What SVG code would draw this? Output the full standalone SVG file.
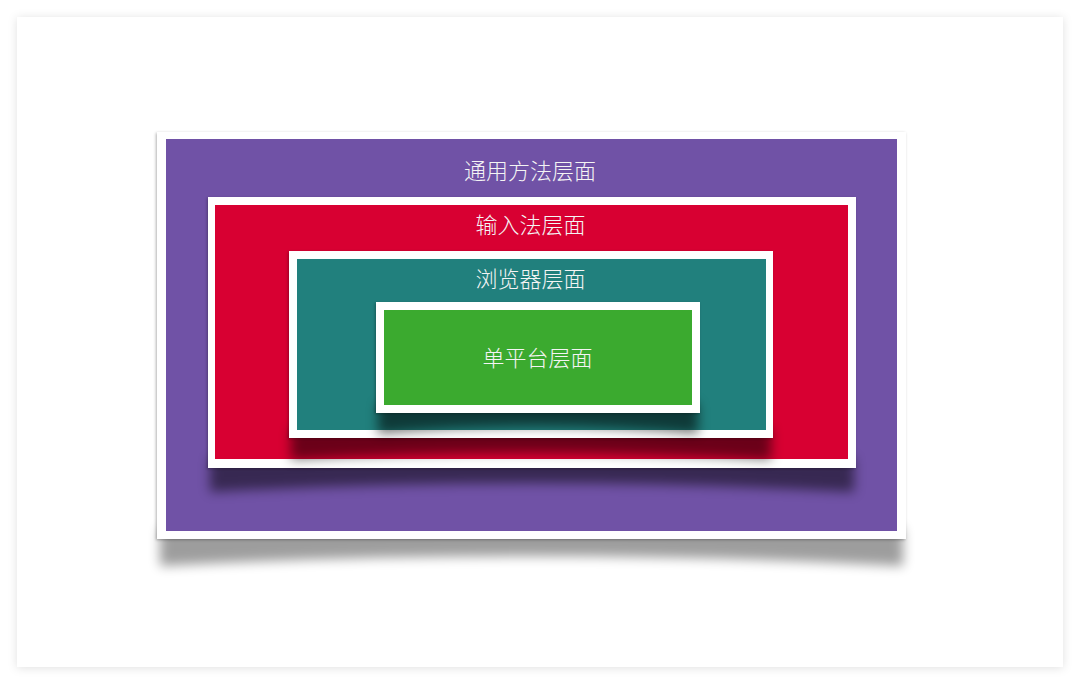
<svg xmlns="http://www.w3.org/2000/svg" width="1080" height="684" viewBox="0 0 1080 684">
<defs>
<style>
.border{fill:#ffffff}
.lbl{font-family:"Noto Sans CJK SC","Noto Sans",sans-serif;font-size:22px;font-weight:300;fill:#f4f4f4;text-anchor:middle}
.curl{fill:#000}
</style>
<filter id="card" x="-5%" y="-5%" width="110%" height="110%">
<feDropShadow dx="0" dy="1" stdDeviation="5" flood-color="#000" flood-opacity="0.12"/>
</filter>
<filter id="edge" x="-5%" y="-5%" width="110%" height="110%">
<feDropShadow dx="-1" dy="1" stdDeviation="1.5" flood-color="#000" flood-opacity="0.3"/>
</filter>
<filter id="blur" x="-10%" y="-50%" width="120%" height="200%">
<feGaussianBlur stdDeviation="6"/>
</filter>
</defs>
<rect width="1080" height="684" fill="#ffffff"/>
<rect x="17" y="17" width="1046" height="650" fill="#ffffff" filter="url(#card)"/>

<g id="node-general">
<path class="curl" d="M160,528 L903,528 L903,566 Q531,546 160,566 Z" opacity="0.38" filter="url(#blur)"/>
<rect class="border" x="157" y="132" width="749" height="407" filter="url(#edge)"/>
<rect x="166" y="139" width="731" height="392" fill="#7052A6"/>
<text class="lbl" x="530" y="179">通用方法层面</text>
</g>

<g id="node-ime">
<path class="curl" d="M210,458 L854,458 L854,492 Q531,474 210,492 Z" opacity="0.5" filter="url(#blur)"/>
<rect class="border" x="208" y="197" width="648" height="271" filter="url(#edge)"/>
<rect x="215" y="205" width="633" height="254" fill="#D80032"/>
<text class="lbl" x="530.5" y="233">输入法层面</text>
</g>

<g id="node-browser">
<path class="curl" d="M291,428 L771,428 L771,460 Q531,445 291,460 Z" opacity="0.5" filter="url(#blur)"/>
<rect class="border" x="289" y="251" width="484" height="187" filter="url(#edge)"/>
<rect x="297" y="259" width="469" height="171" fill="#21807D"/>
<text class="lbl" x="530.5" y="287">浏览器层面</text>
</g>

<g id="node-platform">
<path class="curl" d="M378,403 L698,403 L698,434 Q538,419 378,434 Z" opacity="0.55" filter="url(#blur)"/>
<rect class="border" x="376" y="302" width="324" height="111" filter="url(#edge)"/>
<rect x="384" y="310" width="308" height="95" fill="#3BAA2F"/>
<text class="lbl" x="537.5" y="366">单平台层面</text>
</g>

<g id="connectors"/>
</svg>
